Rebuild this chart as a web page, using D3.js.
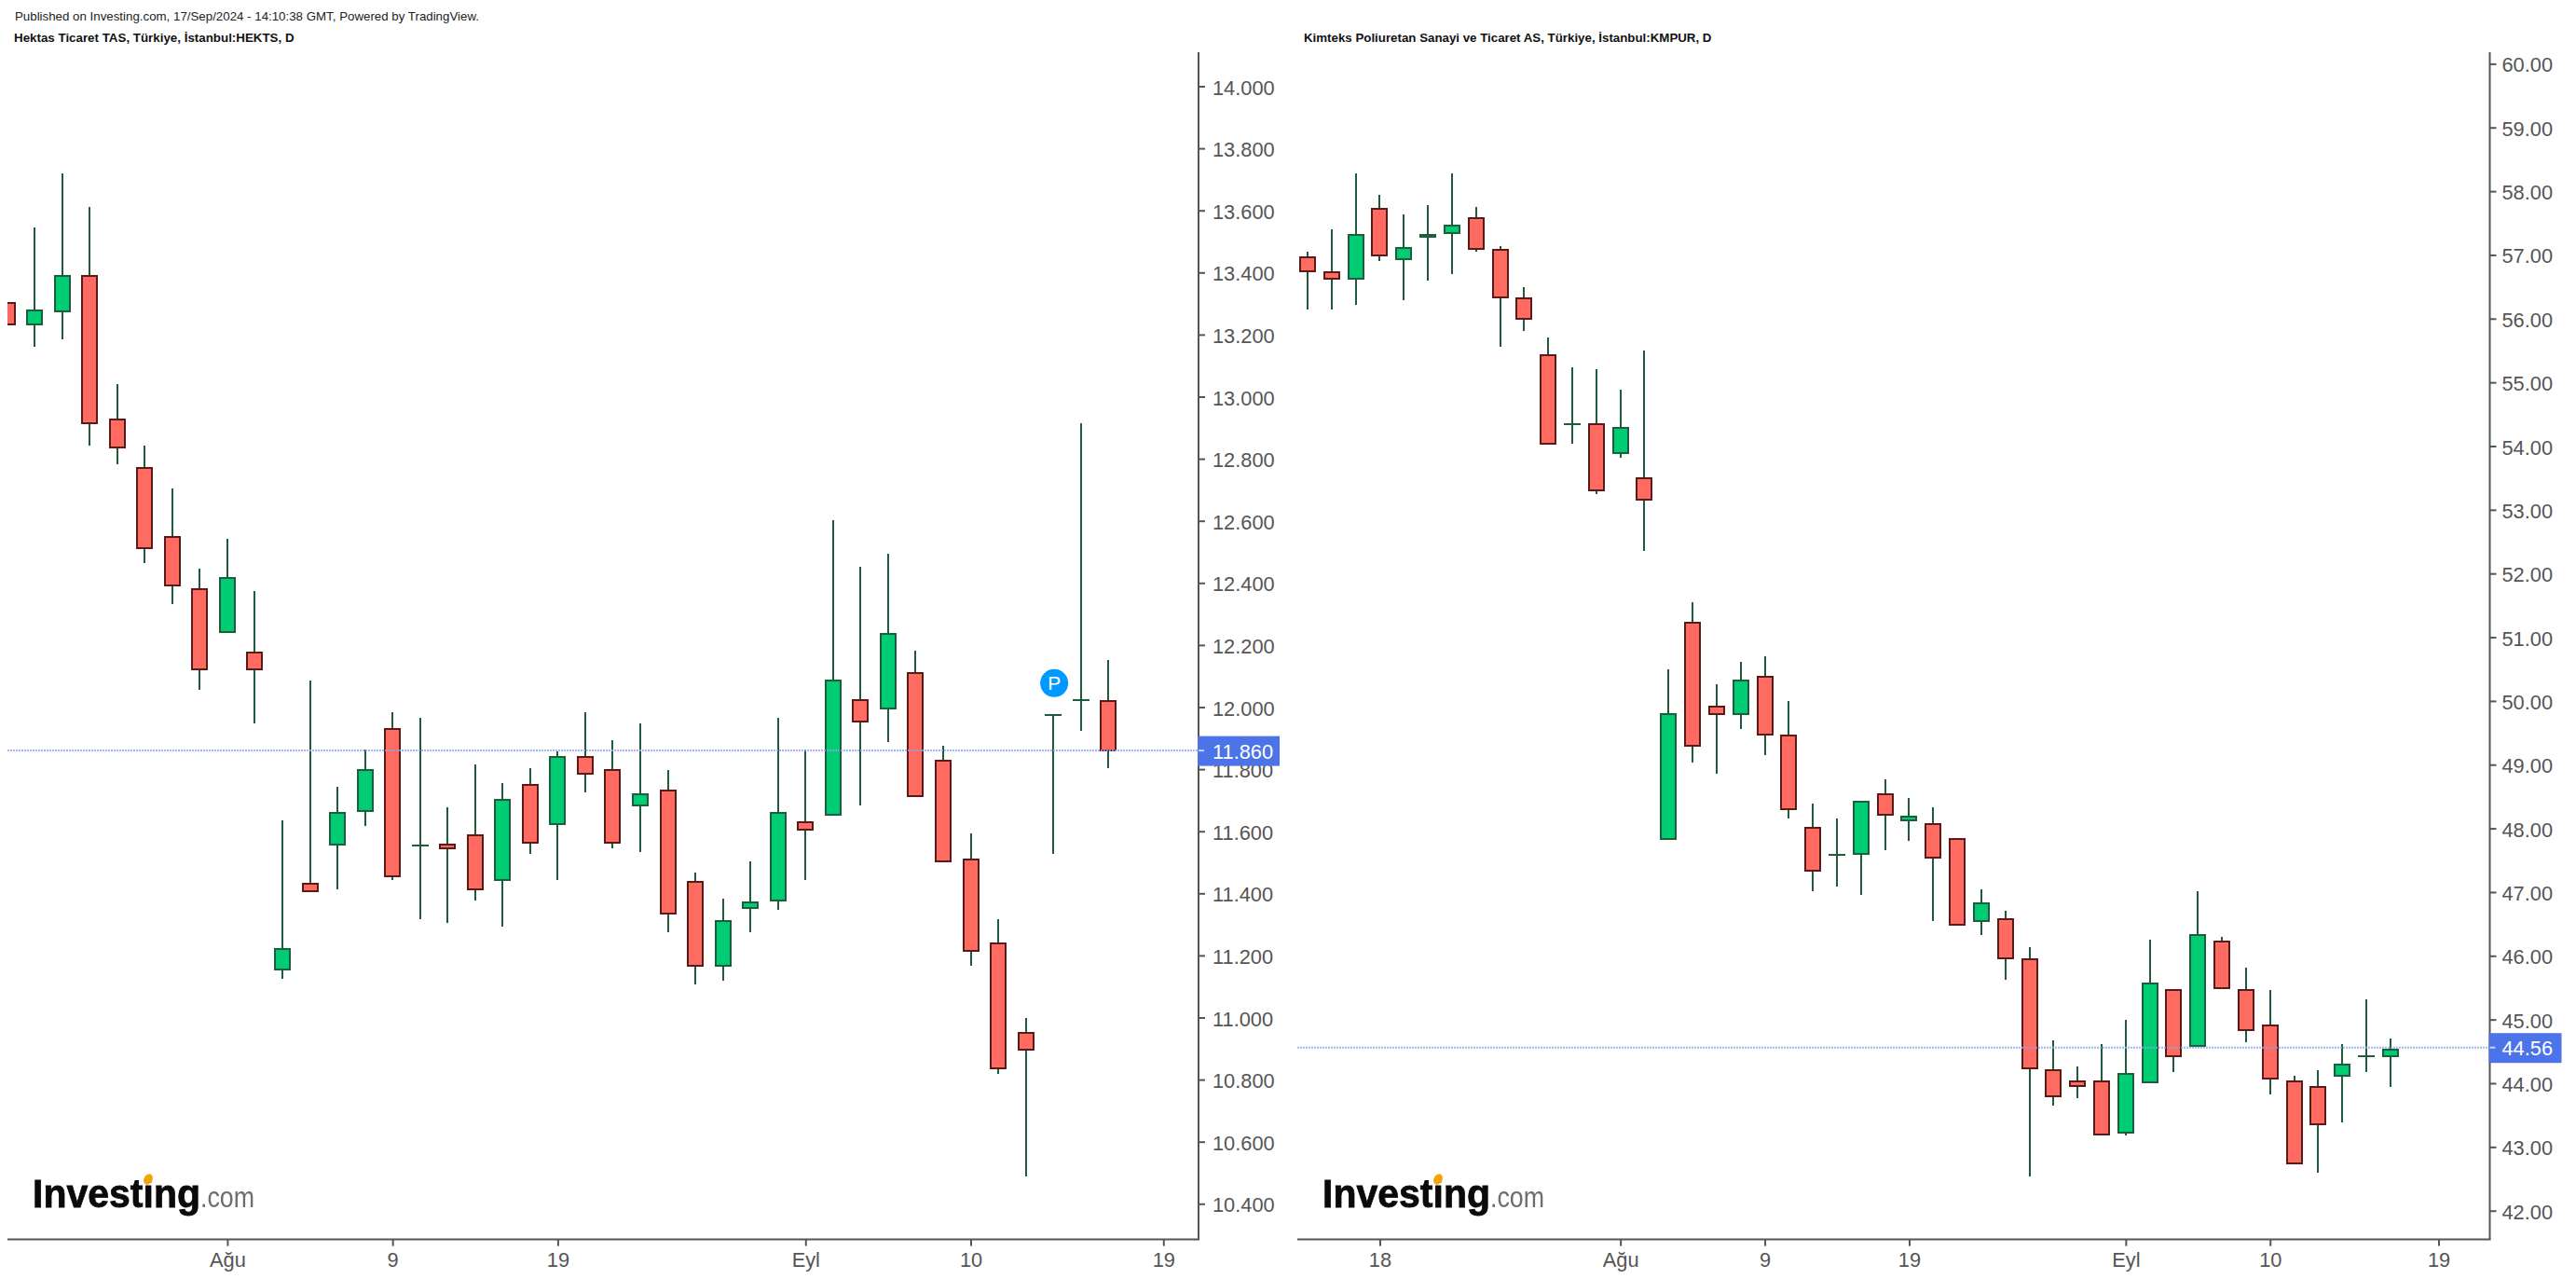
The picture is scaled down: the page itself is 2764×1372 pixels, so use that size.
<!DOCTYPE html>
<html>
<head>
<meta charset="utf-8">
<script src="https://cdn.jsdelivr.net/npm/d3@7/dist/d3.min.js"></script>
<style>
html,body{margin:0;padding:0;background:#fff}
svg{display:block;font-family:"Liberation Sans",Arial,sans-serif}
</style>
</head>
<body>
<svg id="chart" width="2764" height="1372"></svg>
<script>
// ---------- HEKTS ----------
const hektsDates = ["07-22","07-23","07-24","07-25","07-26","07-29","07-30","07-31","08-01","08-02","08-05","08-06","08-07","08-08","08-09","08-12","08-13","08-14","08-15","08-16","08-19","08-20","08-21","08-22","08-23","08-26","08-27","08-28","08-29","09-02","09-03","09-04","09-05","09-06","09-09","09-10","09-11","09-12","09-13","09-16","09-17"];
const hektsOpen = [13.301,13.232,13.274,13.390,12.927,12.771,12.549,12.381,12.241,12.177,11.154,11.432,11.556,11.664,11.930,11.555,11.558,11.588,11.442,11.750,11.622,11.840,11.798,11.682,11.732,11.438,11.166,11.352,11.376,11.630,11.652,12.022,11.995,12.111,11.828,11.510,11.240,10.951,11.974,12.023,12.020];
const hektsClose = [13.232,13.277,13.390,12.914,12.835,12.511,12.391,12.121,12.417,12.121,11.222,11.406,11.660,11.798,11.454,11.555,11.544,11.412,11.702,11.562,11.840,11.784,11.562,11.720,11.334,11.166,11.312,11.372,11.660,11.604,12.086,11.953,12.237,11.712,11.502,11.214,10.835,10.895,11.974,12.023,11.860];
const hektsHigh = [13.301,13.545,13.719,13.611,13.041,12.842,12.704,12.446,12.542,12.374,11.635,12.086,11.743,11.863,11.983,11.965,11.677,11.815,11.755,11.803,11.857,11.983,11.893,11.947,11.797,11.467,11.383,11.503,11.965,11.863,12.602,12.452,12.494,12.182,11.875,11.593,11.317,10.998,11.974,12.914,12.152];
const hektsLow = [13.232,13.162,13.186,12.843,12.783,12.465,12.333,12.056,12.241,11.948,11.126,11.406,11.414,11.618,11.444,11.318,11.306,11.378,11.294,11.528,11.444,11.726,11.546,11.534,11.276,11.108,11.120,11.276,11.348,11.444,11.652,11.684,11.888,11.712,11.502,11.168,10.819,10.489,11.528,11.924,11.804];
const hektsFuture = ["09-18","09-19"];
const hektsPriceTicks = [10.4,10.6,10.8,11.0,11.2,11.4,11.6,11.8,12.0,12.2,12.4,12.6,12.8,13.0,13.2,13.4,13.6,13.8,14.0];
const hektsTimeTicks = ["08-01","08-09","08-19","09-02","09-10","09-19"];
const hektsTimeLabels = ["Ağu","9","19","Eyl","10","19"];
const hektsLast = 11.86;
const hektsMarkerDate = "09-13";
const hektsMarkerValue = 12.077;

// ---------- KMPUR ----------
const kmpurDates = ["07-12","07-16","07-17","07-18","07-19","07-22","07-23","07-24","07-25","07-26","07-29","07-30","07-31","08-01","08-02","08-05","08-06","08-07","08-08","08-09","08-12","08-13","08-14","08-15","08-16","08-19","08-20","08-21","08-22","08-23","08-26","08-27","08-28","08-29","09-02","09-03","09-04","09-05","09-06","09-09","09-10","09-11","09-12","09-13","09-16","09-17"];
const kmpurOpen = [56.965,56.73,56.63,57.72,56.93,57.28,57.34,57.58,57.08,56.32,55.42,54.35,54.34,53.89,53.49,47.83,51.23,49.91,49.79,50.38,49.45,48.01,47.59,47.60,48.54,48.12,48.07,47.84,46.54,46.58,45.94,44.21,44.03,44.03,43.23,44.02,45.47,44.58,46.23,45.47,44.91,44.03,43.94,44.11,44.43,44.43];
const kmpurClose = [56.75,56.63,57.32,56.99,57.11,57.32,57.46,57.10,56.34,55.99,54.03,54.35,53.30,54.28,53.16,49.80,49.29,49.79,50.32,49.47,48.30,47.33,47.59,48.42,48.21,48.19,47.54,46.49,46.82,45.96,44.23,43.79,43.96,43.20,44.15,45.56,44.43,46.32,45.49,44.84,44.08,42.74,43.35,44.29,44.43,44.53];
const kmpurHigh = [57.05,57.40,58.28,57.95,57.63,57.78,58.28,57.75,57.14,56.49,55.70,55.24,55.21,54.89,55.50,50.49,51.55,50.26,50.61,50.70,50.00,48.39,48.16,48.42,48.77,48.48,48.33,47.84,47.05,46.70,46.14,44.67,44.26,44.61,44.99,46.26,45.47,47.02,46.29,45.82,45.47,44.11,44.20,44.61,45.31,44.70];
const kmpurLow = [56.15,56.15,56.21,56.91,56.29,56.59,56.70,57.05,55.56,55.80,54.03,54.04,53.25,53.81,52.35,47.83,49.04,48.86,49.56,49.15,48.16,47.02,47.08,46.96,47.66,47.81,46.55,46.49,46.32,45.62,42.54,43.65,43.77,43.20,43.18,44.02,44.18,44.58,45.49,44.64,43.83,42.74,42.60,43.39,44.18,43.94];
const kmpurFuture = ["09-18","09-19"];
const kmpurPriceTicks = [42,43,44,45,46,47,48,49,50,51,52,53,54,55,56,57,58,59,60];
const kmpurTimeTicks = ["07-18","08-01","08-09","08-19","09-02","09-10","09-19"];
const kmpurTimeLabels = ["18","Ağu","9","19","Eyl","10","19"];
const kmpurLast = 44.56;

const publishedText = "Published on Investing.com, 17/Sep/2024 - 14:10:38 GMT, Powered by TradingView.";
const hektsTitle = "Hektas Ticaret TAS, Türkiye, İstanbul:HEKTS, D";
const kmpurTitle = "Kimteks Poliuretan Sanayi ve Ticaret AS, Türkiye, İstanbul:KMPUR, D";

const C = {
  axis:"#555555", text:"#555555", wick:"#1e5a3b",
  upFill:"#00cc74", upLine:"#1e5c3e", downFill:"#ff6a61", downLine:"#5a1a18",
  last:"#4d73e8", lastLine:"#8ba5f0", marker:"#0099ff"
};
const TOP = 56, AXIS_Y = 1329.6, FONT = 21.8, BODY_W = 16, DOJI_W = 18;

const svg = d3.select("#chart");
svg.append("rect").attr("width",2764).attr("height",1372).attr("fill","#fff");

function panel(o){
  const g = svg.append("g");
  const x = d3.scalePoint().domain(o.dates.concat(o.future)).range(o.xRange);
  const y = d3.scaleLinear().domain(o.yDomain).range(o.yRange);
  const fmt = d3.format(o.fmt);
  const bars = o.dates.map((d,i)=>({date:d,open:o.open[i],close:o.close[i],high:o.high[i],low:o.low[i]}));

  const clipId = "clip"+o.id;
  g.append("clipPath").attr("id",clipId).append("rect")
    .attr("x",o.left).attr("y",TOP).attr("width",o.axisX-o.left).attr("height",AXIS_Y-TOP);
  const plot = g.append("g").attr("clip-path",`url(#${clipId})`).attr("shape-rendering","crispEdges");

  const bar = plot.selectAll("g.bar").data(bars).join("g").attr("class","bar")
    .attr("transform",d=>`translate(${Math.round(x(d.date))},0)`);
  bar.append("line").attr("x1",0).attr("x2",0)
    .attr("y1",d=>y(d.high)).attr("y2",d=>y(d.low))
    .attr("stroke",C.wick).attr("stroke-width",2);
  bar.filter(d=>d.open===d.close).append("line")
    .attr("x1",-DOJI_W/2).attr("x2",DOJI_W/2)
    .attr("y1",d=>y(d.open)).attr("y2",d=>y(d.open))
    .attr("stroke",C.wick).attr("stroke-width",2);
  bar.filter(d=>d.open!==d.close).append("rect")
    .attr("x",-BODY_W/2).attr("width",BODY_W)
    .attr("y",d=>y(Math.max(d.open,d.close)))
    .attr("height",d=>Math.abs(y(d.open)-y(d.close)))
    .attr("fill",d=>d.close>d.open?C.upFill:C.downFill)
    .attr("stroke",d=>d.close>d.open?C.upLine:C.downLine)
    .attr("stroke-width",2);

  // last-price line
  g.append("line").attr("x1",o.left).attr("x2",o.axisX)
    .attr("y1",y(o.last)).attr("y2",y(o.last))
    .attr("stroke",C.lastLine).attr("stroke-opacity",.8)
    .attr("stroke-width",2).attr("stroke-dasharray","2 1");

  // price axis
  const ya = g.append("g").attr("transform",`translate(${o.axisX},0)`)
    .call(d3.axisRight(y).tickValues(o.priceTicks).tickFormat(fmt).tickSize(7).tickSizeOuter(0));
  ya.select(".domain").remove();
  ya.selectAll(".tick line").attr("stroke",C.axis).attr("stroke-width",2);
  ya.selectAll(".tick text").attr("x",o.labelDx).attr("dy",8.5).attr("fill",C.text)
    .attr("font-size",FONT).attr("font-family","Liberation Sans, Arial, sans-serif");

  // time axis
  const labelOf = new Map(o.timeTicks.map((t,i)=>[t,o.timeLabels[i]]));
  const xa = g.append("g").attr("transform",`translate(0,${AXIS_Y})`)
    .call(d3.axisBottom(x).tickValues(o.timeTicks).tickFormat(t=>labelOf.get(t)).tickSize(7).tickSizeOuter(0));
  xa.select(".domain").remove();
  xa.selectAll(".tick line").attr("stroke",C.axis).attr("stroke-width",2);
  xa.selectAll(".tick text").attr("y",29).attr("dy",0).attr("fill",C.text)
    .attr("font-size",FONT).attr("font-family","Liberation Sans, Arial, sans-serif");

  // axis lines
  g.append("line").attr("x1",o.left).attr("x2",o.axisX+1).attr("y1",AXIS_Y).attr("y2",AXIS_Y)
    .attr("stroke",C.axis).attr("stroke-width",2);
  g.append("line").attr("x1",o.axisX).attr("x2",o.axisX).attr("y1",TOP).attr("y2",AXIS_Y)
    .attr("stroke",C.axis).attr("stroke-width",2);

  // last-price label
  const py = y(o.last);
  g.append("rect").attr("x",o.axisX-1).attr("y",py-15.5).attr("width",o.boxW).attr("height",32).attr("fill",C.last);
  g.append("line").attr("x1",o.axisX).attr("x2",o.axisX+6).attr("y1",py).attr("y2",py)
    .attr("stroke","#c9d5f8").attr("stroke-width",2);
  g.append("text").attr("x",o.axisX+o.labelDx).attr("y",py+8.6).attr("fill","#fff")
    .attr("font-size",FONT).text(fmt(o.last));

  // title
  g.append("text").attr("x",o.titleX).attr("y",45).attr("fill","#111")
    .attr("font-size",o.titleSize).attr("font-weight","bold").text(o.title);

  // logo
  const logo = g.append("g").attr("transform",`translate(${o.logoX},1295)`).style("filter","blur(0.6px)");
  logo.append("text").attr("x",0).attr("y",0).attr("fill","#0a0a0a").attr("stroke","#0a0a0a").attr("stroke-width",.8)
    .attr("font-weight","bold").attr("font-size",42).attr("textLength",180).attr("lengthAdjust","spacingAndGlyphs").text("Investing");
  logo.append("text").attr("x",180).attr("y",0).attr("fill","#6e6e6e")
    .attr("font-size",31).attr("textLength",58).attr("lengthAdjust","spacingAndGlyphs").text(".com");
  logo.append("ellipse").attr("cx",124).attr("cy",-30).attr("rx",4.5).attr("ry",6)
    .attr("transform","rotate(30 124 -30)").attr("fill","#f5a300");
  return {x,y,g};
}

const left = panel({
  id:"L", dates:hektsDates, future:hektsFuture, open:hektsOpen, close:hektsClose, high:hektsHigh, low:hektsLow,
  xRange:[7.6,1248.3], yDomain:[10.4,14], yRange:[1291.3,92.5], fmt:".3f",
  priceTicks:hektsPriceTicks, timeTicks:hektsTimeTicks, timeLabels:hektsTimeLabels, last:hektsLast,
  left:8, axisX:1286, labelDx:15, boxW:88, title:hektsTitle, titleX:15, titleSize:13.35, logoX:35
});
const right = panel({
  id:"R", dates:kmpurDates, future:kmpurFuture, open:kmpurOpen, close:kmpurClose, high:kmpurHigh, low:kmpurLow,
  xRange:[1403,2616.5], yDomain:[42,60], yRange:[1298.7,68.4], fmt:".2f",
  priceTicks:kmpurPriceTicks, timeTicks:kmpurTimeTicks, timeLabels:kmpurTimeLabels, last:kmpurLast,
  left:1392, axisX:2671.5, labelDx:13, boxW:78, title:kmpurTitle, titleX:1399, titleSize:13.3, logoX:1419
});

// "P" marker
const mx = left.x(hektsMarkerDate)+1, my = left.y(hektsMarkerValue);
left.g.append("circle").attr("cx",mx).attr("cy",my).attr("r",15).attr("fill",C.marker);
left.g.append("text").attr("x",mx).attr("y",my+7.5).attr("text-anchor","middle").attr("fill","#fff")
  .attr("font-size",21).text("P");

// header
svg.append("text").attr("x",16).attr("y",22).attr("fill","#222").attr("font-size",13.3).text(publishedText);
</script>
</body>
</html>
